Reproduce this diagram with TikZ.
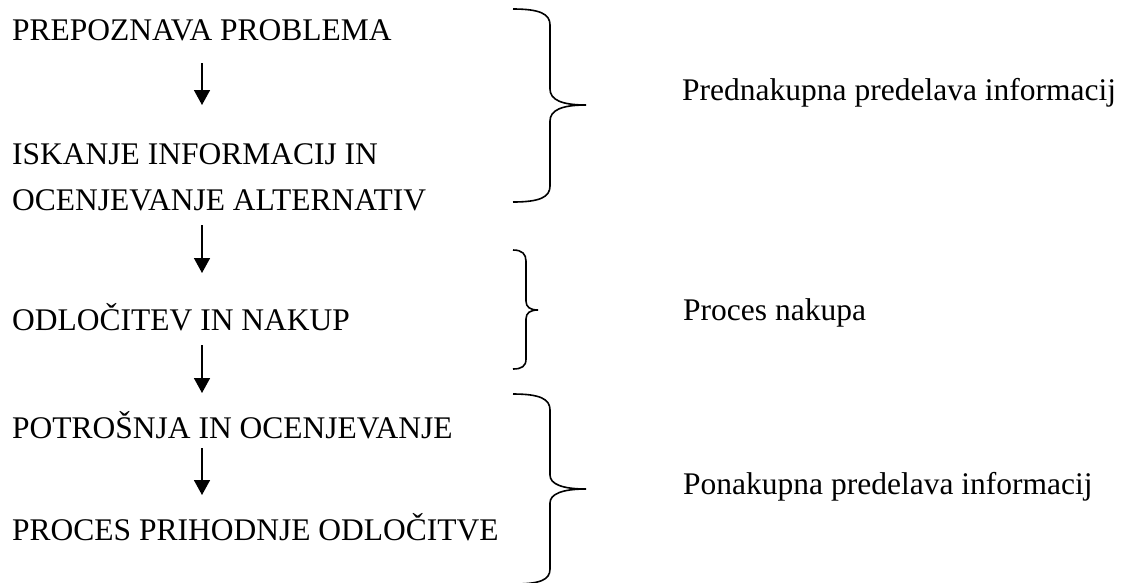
\documentclass[tikz,border=0pt]{standalone}
\usepackage{fontspec}
\setmainfont{Liberation Serif}
\usetikzlibrary{arrows.meta}

\begin{document}
\begin{tikzpicture}[x=1pt,y=-1pt,
	txt/.style={anchor=base west,inner sep=0pt,font=\fontsize{31.5}{38}\selectfont},
	arr/.style={line width=1.6pt,-{Triangle[length=15pt,width=16pt]}},
	brc/.style={line width=1.6pt}]
	\useasboundingbox (0,0) rectangle (1126,582);
	\pgfmathsetmacro\AX{202}
	% koraki nakupnega procesa
	\node[txt] (prepoznava) at (12,40) {PREPOZNAVA PROBLEMA};
	\node[txt] (iskanje) at (12,164) {ISKANJE INFORMACIJ IN};
	\node[txt] (ocenjevanje) at (12,210) {OCENJEVANJE ALTERNATIV};
	\node[txt] (odlocitev) at (12,330) {ODLOČITEV IN NAKUP};
	\node[txt] (potrosnja) at (12,438) {POTROŠNJA IN OCENJEVANJE};
	\node[txt] (prihodnje) at (12,540) {PROCES PRIHODNJE ODLOČITVE};
	% puscice
	\coordinate (a1s) at (\AX,63);  \coordinate (a1e) at (\AX,105);
	\coordinate (a2s) at (\AX,225); \coordinate (a2e) at (\AX,273);
	\coordinate (a3s) at (\AX,345); \coordinate (a3e) at (\AX,393);
	\coordinate (a4s) at (\AX,448); \coordinate (a4e) at (\AX,495);
	\draw[arr] (a1s) -- (a1e);
	\draw[arr] (a2s) -- (a2e);
	\draw[arr] (a3s) -- (a3e);
	\draw[arr] (a4s) -- (a4e);
	% zaviti oklepaji
	\draw[brc] (513,9) .. controls (540,9) and (550,14) .. (550,25) -- (550,89)
		.. controls (550,100) and (562,105) .. (586,105)
		.. controls (562,105) and (550,110) .. (550,121) -- (550,186)
		.. controls (550,197) and (540,202) .. (513,202);
	\draw[brc] (513,250) .. controls (522,250) and (526,254) .. (526,261) -- (526,301)
		.. controls (526,307) and (530,310) .. (538,310)
		.. controls (530,310) and (526,313) .. (526,319) -- (526,359)
		.. controls (526,366) and (522,369) .. (513,369);
	\draw[brc] (513,394) .. controls (540,394) and (550,399) .. (550,410) -- (550,475)
		.. controls (550,484) and (562,489) .. (586,489)
		.. controls (562,489) and (550,494) .. (550,503) -- (550,569)
		.. controls (550,580) and (540,584) .. (513,584);
	% faze
	\node[txt] (pred) at (682,100) {Prednakupna predelava informacij};
	\node[txt] (nakup) at (683,320) {Proces nakupa};
	\node[txt] (po) at (683,494) {Ponakupna predelava informacij};
\end{tikzpicture}
\end{document}
